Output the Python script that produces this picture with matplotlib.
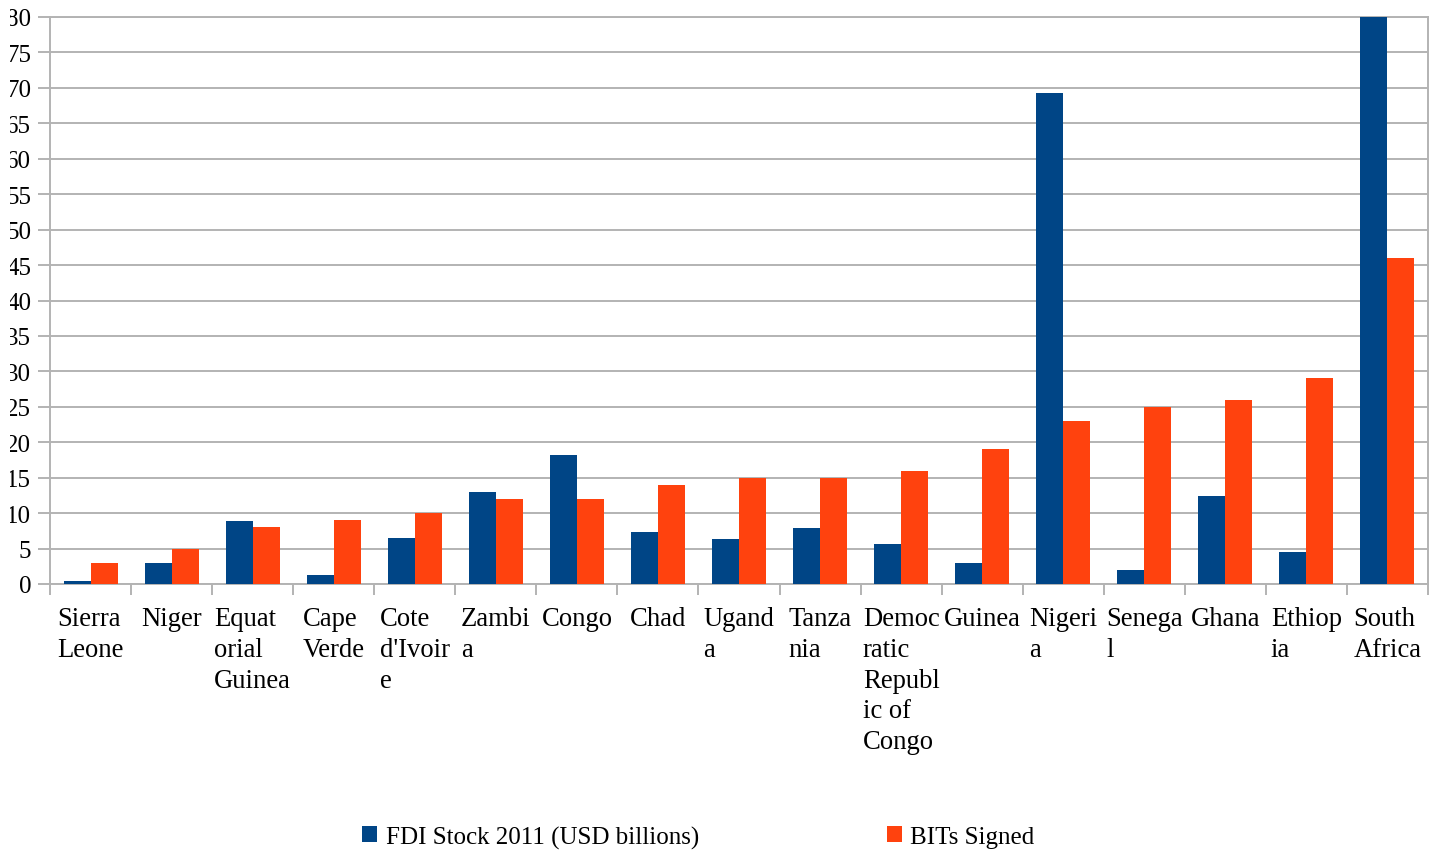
import matplotlib
matplotlib.use("Agg")
import matplotlib.pyplot as plt
from matplotlib.transforms import Bbox, TransformedBbox, IdentityTransform
import numpy as np

countries = ["Sierra Leone", "Niger", "Equatorial Guinea", "Cape Verde", "Cote d'Ivoire",
             "Zambia", "Congo", "Chad", "Uganda", "Tanzania",
             "Democratic Republic of Congo", "Guinea", "Nigeria", "Senegal", "Ghana",
             "Ethiopia", "South Africa"]
tick_labels = ["Sierra\nLeone", "Niger", "Equat\norial\nGuinea", "Cape\nVerde", "Cote\nd'Ivoir\ne",
               "Zambi\na", "Congo", "Chad", "Ugand\na", "Tanza\nnia",
               "Democ\nratic\nRepubl\nic of\nCongo", "Guinea", "Nigeri\na", "Senega\nl", "Ghana",
               "Ethiop\nia", "South\nAfrica"]
fdi_stock = [0.4, 3.0, 8.9, 1.3, 6.5, 13.0, 18.2, 7.3, 6.3, 7.9, 5.6, 3.0, 69.3, 2.0, 12.4, 4.5, 80.0]
bits_signed = [3, 5, 8, 9, 10, 12, 12, 14, 15, 15, 16, 19, 23, 25, 26, 29, 46]
yticks = list(range(0, 81, 5))

plt.rcParams['font.family'] = ['Liberation Serif', 'DejaVu Serif']

W, H = 1440, 854
fig = plt.figure(figsize=(W / 100, H / 100), dpi=100)
ax = fig.add_axes([50 / W, (H - 585) / H, (1428 - 50) / W, (585 - 18) / H])

x = np.arange(len(countries))
bw = 1 / 3
blue = "#004586"
orange = "#ff420e"
grid = "#b3b3b3"

b1 = ax.bar(x - bw / 2, fdi_stock, width=bw, color=blue, label="FDI Stock 2011 (USD billions)", zorder=3)
b2 = ax.bar(x + bw / 2, bits_signed, width=bw, color=orange, label="BITs Signed", zorder=3)

ax.set_xlim(-0.5, len(countries) - 0.5)
ax.set_ylim(0, 80)
ax.set_yticks(yticks)
ax.set_yticklabels([str(v) for v in yticks])
ax.yaxis.grid(True, color=grid, linewidth=1.4, zorder=0)
ax.set_axisbelow(True)

for s in ax.spines.values():
    s.set_color(grid)
    s.set_linewidth(1.4)

ax.tick_params(axis='y', length=8.6, width=1.4, color=grid, pad=5, labelsize=18)
clip = TransformedBbox(Bbox([[9.5, 0], [W, H]]), IdentityTransform())
for lbl in ax.get_yticklabels():
    lbl.set_clip_box(clip)
    lbl.set_clip_on(True)

ax.set_xticks(x)
ax.set_xticklabels(tick_labels)
ax.set_xticks(np.arange(len(countries) + 1) - 0.5, minor=True)
ax.tick_params(axis='x', which='major', length=0, pad=16, labelsize=19.2)
ax.tick_params(axis='x', which='minor', length=8, width=1.4, color=grid)
for lbl in ax.get_xticklabels():
    lbl.set_multialignment('left')
    lbl.set_verticalalignment('top')
    lbl.set_linespacing(1.3)

fig.legend(handles=[b1, b2], loc='center', bbox_to_anchor=(0.485, (H - 838) / H),
           ncol=2, frameon=False, fontsize=18, handlelength=0.6, handleheight=0.6,
           handletextpad=0.35, columnspacing=7.5)

fig.savefig("out.png", dpi=100)
